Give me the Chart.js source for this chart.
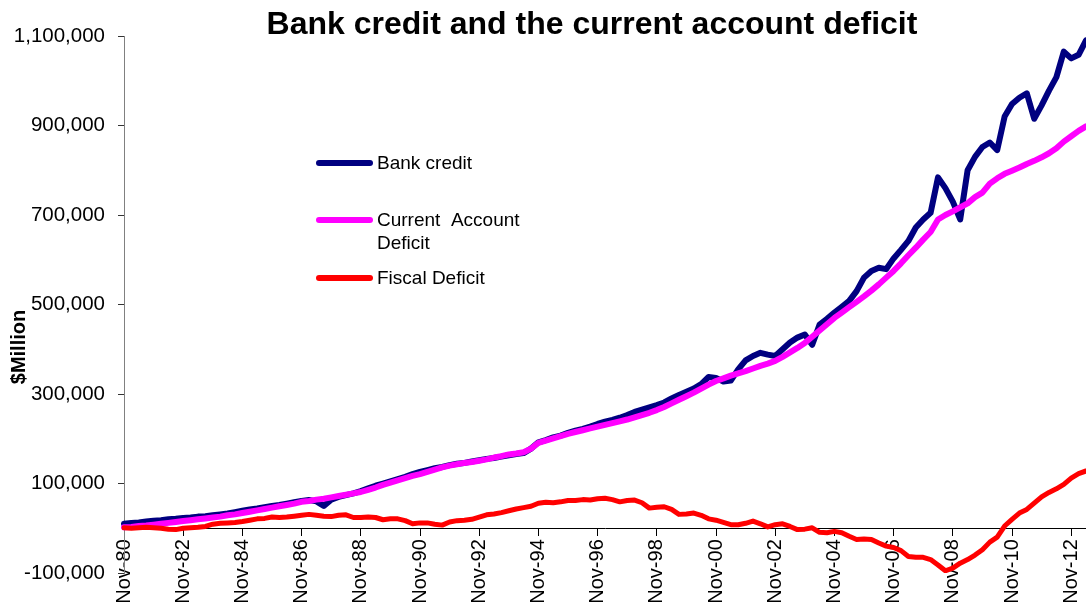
<!DOCTYPE html>
<html lang="en">

<head>
    <meta charset="UTF-8">
    <meta name="viewport" content="width=device-width, initial-scale=1.0">
    <script src="https://cdn.jsdelivr.net/npm/chart.js"></script>
    <title>Bank credit and the current account deficit</title>
    <style>
        html, body { margin: 0; padding: 0; background: #fff; }
        #wrap { position: relative; width: 1086px; height: 608px; }
    </style>
</head>

<body>
    <div id="wrap">
        <canvas id="creditChart"></canvas>
    </div>

    <script>
        const chartTitle = 'Bank credit and the current account deficit';
        const yTitle = '$Million';

        // quarterly points, Nov-80 .. May-13
        const months = ['Nov', 'Feb', 'May', 'Aug'];
        const startYear = 80;
        const pointCount = 131;

        const bankCredit = [
            10000, 12000, 13000, 15000, 17000, 18000, 20000, 21000,
            23000, 24000, 26000, 27000, 29000, 31000, 33000, 36000,
            39000, 42000, 44000, 47000, 50000, 52000, 55000, 58000,
            61000, 63000, 60000, 50000, 64000, 70000, 74000, 78000,
            83000, 89000, 95000, 100000, 105000, 110000, 115000, 121000,
            126000, 130000, 134000, 137000, 141000, 144000, 146000, 149000,
            152000, 155000, 157000, 160000, 163000, 166000, 168000, 178000,
            192000, 197000, 203000, 207000, 213000, 218000, 222000, 227000,
            233000, 238000, 242000, 247000, 253000, 260000, 265000, 270000,
            275000, 281000, 290000, 298000, 305000, 312000, 322000, 338000,
            336000, 328000, 330000, 355000, 375000, 385000, 392000, 388000,
            385000, 400000, 415000, 426000, 433000, 410000, 455000, 468000,
            482000, 495000, 508000, 530000, 560000, 575000, 582000, 579000,
            603000, 622000, 642000, 672000, 690000, 705000, 784000, 760000,
            730000, 690000, 800000, 830000, 852000, 862000, 845000, 920000,
            948000, 962000, 972000, 915000, 945000, 978000, 1008000, 1065000,
            1050000, 1058000, 1090000
        ];

        const currentAccountDeficit = [
            2000, 3000, 5000, 6000, 8000, 10000, 12000, 14000,
            16000, 18000, 20000, 22000, 24000, 26000, 29000, 31000,
            34000, 37000, 40000, 43000, 46000, 49000, 52000, 55000,
            59000, 61000, 64000, 66000, 69000, 72000, 75000, 78000,
            81000, 86000, 91000, 97000, 102000, 107000, 112000, 117000,
            121000, 126000, 131000, 136000, 140000, 143000, 146000, 148000,
            151000, 154000, 158000, 161000, 165000, 167000, 170000, 178000,
            191000, 196000, 201000, 206000, 211000, 215000, 219000, 223000,
            227000, 231000, 235000, 239000, 243000, 248000, 253000, 258000,
            264000, 271000, 279000, 287000, 295000, 303000, 312000, 321000,
            329000, 335000, 341000, 346000, 351000, 357000, 363000, 368000,
            374000, 383000, 393000, 403000, 414000, 428000, 442000, 456000,
            470000, 482000, 494000, 506000, 518000, 531000, 545000, 560000,
            575000, 592000, 610000, 627000, 645000, 662000, 690000, 700000,
            708000, 717000, 726000, 740000, 750000, 770000, 782000, 792000,
            799000, 806000, 814000, 821000, 829000, 838000, 849000, 864000,
            876000, 888000, 898000
        ];

        const fiscalDeficit = [
            1000, 0, 1000, 2000, 1000, 0, -2000, -3000,
            0, 1000, 2000, 4000, 9000, 11000, 12000, 13000,
            15000, 18000, 21000, 22000, 25000, 24000, 25000, 27000,
            29000, 31000, 29000, 27000, 26000, 29000, 30000, 24000,
            24000, 25000, 24000, 19000, 21000, 21000, 17000, 10000,
            12000, 12000, 9000, 7000, 14000, 17000, 18000, 20000,
            25000, 30000, 32000, 35000, 39000, 43000, 46000, 49000,
            56000, 58000, 57000, 59000, 62000, 62000, 64000, 63000,
            66000, 67000, 64000, 59000, 62000, 63000, 57000, 45000,
            47000, 48000, 42000, 31000, 32000, 34000, 29000, 21000,
            18000, 13000, 8000, 8000, 11000, 16000, 10000, 3000,
            8000, 10000, 4000, -3000, -2000, 1000, -9000, -10000,
            -7000, -10000, -18000, -25000, -24000, -25000, -33000, -40000,
            -43000, -50000, -63000, -65000, -65000, -70000, -82000, -95000,
            -89000, -78000, -70000, -60000, -48000, -31000, -20000, 5000,
            20000, 34000, 42000, 56000, 70000, 80000, 88000, 98000,
            112000, 122000, 128000
        ];

        const quarterLabels = [];
        for (let i = 0; i < pointCount; i++) {
            const yy = (startYear + Math.floor((i + 1) / 4)) % 100;
            quarterLabels.push(months[i % 4] + '-' + String(yy).padStart(2, '0'));
        }

        const FONT = '"Liberation Sans", Arial, sans-serif';

        // legend + titles drawn straight onto the canvas
        const overlay = {
            id: 'overlay',
            afterDraw(chart) {
                const ctx = chart.ctx;
                ctx.save();
                ctx.fillStyle = '#000';
                ctx.textBaseline = 'middle';

                ctx.font = 'bold 32px ' + FONT;
                ctx.textAlign = 'center';
                ctx.fillText(chartTitle, 592, 25);

                ctx.save();
                ctx.translate(19, 347);
                ctx.rotate(-Math.PI / 2);
                ctx.font = 'bold 20px ' + FONT;
                ctx.fillText(yTitle, 0, 0);
                ctx.restore();

                const rows = [163, 220, 278];
                ctx.font = '19px ' + FONT;
                ctx.textAlign = 'left';
                chart.data.datasets.forEach((ds, i) => {
                    const y = rows[i];
                    ctx.beginPath();
                    ctx.lineCap = 'round';
                    ctx.lineWidth = 6;
                    ctx.strokeStyle = ds.borderColor;
                    ctx.moveTo(319, y);
                    ctx.lineTo(370, y);
                    ctx.stroke();
                    ds.legendText.forEach((t, k) => {
                        ctx.fillText(t, 377, y + 1 + k * 23);
                    });
                });
                ctx.restore();
            }
        };

        const ctx = document.getElementById('creditChart').getContext('2d');
        new Chart(ctx, {
            type: 'line',
            data: {
                labels: quarterLabels,
                datasets: [{
                    label: 'Bank credit',
                    legendText: ['Bank credit'],
                    data: bankCredit,
                    borderColor: '#000080',
                    borderWidth: 6,
                    order: 3
                }, {
                    label: 'Current Account Deficit',
                    legendText: ['Current  Account', 'Deficit'],
                    data: currentAccountDeficit,
                    borderColor: '#FF00FF',
                    borderWidth: 6,
                    order: 2
                }, {
                    label: 'Fiscal Deficit',
                    legendText: ['Fiscal Deficit'],
                    data: fiscalDeficit,
                    borderColor: '#FF0000',
                    borderWidth: 5,
                    order: 1
                }]
            },
            options: {
                responsive: true,
                maintainAspectRatio: false,
                animation: false,
                devicePixelRatio: 1,
                layout: {
                    padding: { top: 36, bottom: 35, left: 0, right: 0 }
                },
                elements: {
                    point: { radius: 0, hoverRadius: 0 },
                    line: { tension: 0, borderJoinStyle: 'round', borderCapStyle: 'round', fill: false }
                },
                plugins: {
                    legend: { display: false },
                    title: { display: false },
                    tooltip: { enabled: false }
                },
                scales: {
                    x: {
                        type: 'category',
                        position: { y: 0 },
                        offset: false,
                        grid: {
                            display: true,
                            drawOnChartArea: false,
                            drawTicks: true,
                            tickLength: 7,
                            color: '#000'
                        },
                        border: { display: true, color: '#000', width: 1 },
                        ticks: {
                            autoSkip: false,
                            maxRotation: 90,
                            minRotation: 90,
                            padding: 4,
                            color: '#000',
                            font: { family: FONT, size: 20 },
                            callback: function (value, index) {
                                return index % 8 === 0 ? this.getLabelForValue(value) : null;
                            }
                        },
                        afterFit(scale) {
                            scale.paddingLeft = 0;
                            scale.paddingRight = 0;
                        }
                    },
                    y: {
                        type: 'linear',
                        position: 'left',
                        min: -100000,
                        max: 1100000,
                        grid: {
                            display: true,
                            drawOnChartArea: false,
                            drawTicks: true,
                            tickLength: 6,
                            color: '#333'
                        },
                        border: { display: true, color: '#808080', width: 1 },
                        ticks: {
                            stepSize: 200000,
                            padding: 13,
                            color: '#000',
                            font: { family: FONT, size: 20.5 },
                            callback: (v) => v.toLocaleString('en-US')
                        },
                        afterFit(scale) {
                            scale.width = 124;
                        }
                    }
                }
            },
            plugins: [overlay]
        });
    </script>
</body>

</html>
